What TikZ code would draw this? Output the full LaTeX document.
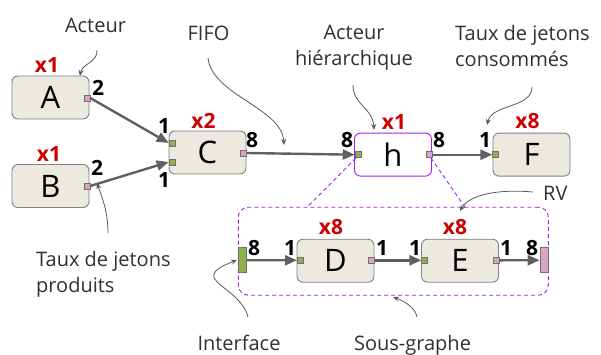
\documentclass[tikz,border=0pt]{standalone}
\usepackage{fontspec}
\setmainfont{Open Sans}
\usetikzlibrary{arrows.meta}
\definecolor{boxfill}{HTML}{ECEAE0}
\definecolor{boxborder}{HTML}{808080}
\definecolor{portgreen}{HTML}{8DB04C}
\definecolor{portpink}{HTML}{D8A5C4}
\definecolor{portborder}{HTML}{707070}
\definecolor{edgegray}{HTML}{606060}
\definecolor{notegray}{HTML}{303030}
\definecolor{repred}{HTML}{CC0000}
\definecolor{purp}{HTML}{A020F0}
\begin{document}
\begin{tikzpicture}[x=1pt,y=-1pt,
  actor/.style={draw=boxborder, fill=boxfill, rounded corners=6pt, minimum width=77pt, minimum height=43pt, line width=0.9pt, inner sep=0pt, font=\fontsize{31}{31}\selectfont},
  inport/.style={draw=portborder, fill=portgreen, minimum size=6pt, inner sep=0pt, line width=0.6pt},
  outport/.style={draw=portborder, fill=portpink, minimum size=6pt, inner sep=0pt, line width=0.6pt},
  rate/.style={font=\fontsize{21}{21}\selectfont\bfseries, text=black, inner sep=0pt},
  rep/.style={font=\fontsize{21}{21}\selectfont\bfseries, text=repred, inner sep=0pt},
  note/.style={font=\fontsize{20}{26}\selectfont, text=notegray, inner sep=0pt, anchor=base},
  edge/.style={draw=edgegray, line width=2.4pt, -{Triangle[length=12pt,width=10pt]}},
  notearrow/.style={draw=notegray!80, line width=0.8pt, -{Stealth[length=6pt,width=5pt]}},
  purpdash/.style={draw=purp, line width=0.9pt, dash pattern=on 4pt off 3pt}
]
\useasboundingbox (0,0) rectangle (601,354);

% subgraph box
\node[purpdash, rounded corners=10pt, minimum width=310pt, minimum height=88pt, inner sep=0pt] (sg) at (393.3,251.2) {};

% actors
\node[actor] (A) at (50.5,97.5) {A};
\node[actor] (B) at (50.5,186) {B};
\node[actor] (C) at (207.5,152.5) {C};
\node[actor, draw=purp, fill=white] (h) at (393,154.6) {h};
\node[actor] (F) at (531.5,154.6) {F};
\node[actor] (D) at (335.5,260.7) {D};
\node[actor] (E) at (460,260.7) {E};

% hierarchy dashed lines
\coordinate (hl) at (356,158);
\coordinate (sl) at (307,207.3);
\coordinate (hr) at (431,158);
\coordinate (sr) at (465,207.3);
\draw[purpdash] (hl) -- (sl);
\draw[purpdash] (hr) -- (sr);

% ports
\node[outport] (pA) at (87,98) {};
\node[outport] (pB) at (87,186) {};
\node[inport] (pC1) at (172,143) {};
\node[inport] (pC2) at (172,162) {};
\node[outport] (pCo) at (243.7,153) {};
\node[inport] (phi) at (358,154.7) {};
\node[outport] (pho) at (429,154.7) {};
\node[inport] (pFi) at (495.7,154.7) {};
\node[inport] (pDi) at (300.3,260.3) {};
\node[outport] (pDo) at (371.3,260.3) {};
\node[inport] (pEi) at (424.7,260.3) {};
\node[outport] (pEo) at (496.3,260.3) {};
\node[draw=portborder, fill=portgreen, minimum width=8.4pt, minimum height=25pt, inner sep=0pt, line width=0.6pt] (ifL) at (242.5,260.2) {};
\node[draw=portborder, fill=portpink, minimum width=8.4pt, minimum height=25pt, inner sep=0pt, line width=0.6pt] (ifR) at (544.2,260.2) {};

% edges
\draw[edge] (pA.east) -- (pC1.west);
\draw[edge] (pB.east) -- (pC2.west);
\draw[edge] (pCo.east) -- (phi.west);
\draw[edge] (pho.east) -- (pFi.west);
\draw[edge] (ifL.east) -- (pDi.west);
\draw[edge] (pDo.east) -- (pEi.west);
\draw[edge] (pEo.east) -- (ifR.west);

% repetition labels
\node[rep] (rA) at (47,65) {x1};
\node[rep] (rB) at (49,153.5) {x1};
\node[rep] (rC) at (203.5,121) {x2};
\node[rep] (rh) at (394,121.5) {x1};
\node[rep] (rF) at (527.5,121.5) {x8};
\node[rep] (rD) at (331,227) {x8};
\node[rep] (rE) at (455,227) {x8};

% rate labels
\node[rate] (tA) at (98,88) {2};
\node[rate] (tB) at (97,168) {2};
\node[rate] (tC1) at (164,126) {1};
\node[rate] (tC2) at (164,180) {1};
\node[rate] (tCo) at (252,140) {8};
\node[rate] (thi) at (347,140) {8};
\node[rate] (tho) at (439,140) {8};
\node[rate] (tFi) at (485,140) {1};
\node[rate] (tiL) at (254,248) {8};
\node[rate] (tDi) at (290,248) {1};
\node[rate] (tDo) at (382,248) {1};
\node[rate] (tEi) at (415,248) {1};
\node[rate] (tEo) at (506,248) {1};
\node[rate] (tiR) at (532,248) {8};

% annotations
\node[note] (nAct) at (95.5,32) {Acteur};
\node[note] (nFifo) at (208.5,40) {FIFO};
\node[note, align=center] (nHier) at (354,65) {Acteur\\hiérarchique};
\node[note, align=left, anchor=base west] (nCons) at (455,66) {Taux de jetons\\consommés};
\node[note, anchor=base west] (nRV) at (543,200) {RV};
\node[note, align=left, anchor=base west] (nProd) at (36,292) {Taux de jetons\\produits};
\node[note] (nIf) at (239,350) {Interface};
\node[note] (nSg) at (412.5,350) {Sous-graphe};

\coordinate (aAct0) at (97,50);   \coordinate (aAct1) at (80,76);
\coordinate (aFifo0) at (208,58); \coordinate (aFifo1) at (284,145);
\coordinate (aHier0) at (353,85); \coordinate (aHier1) at (374,130);
\coordinate (aCons0) at (532,87); \coordinate (aCons1) at (487,125);
\coordinate (aRV0) at (533,192);  \coordinate (aRV1) at (460,211);
\coordinate (aProd0) at (108,233); \coordinate (aProd1) at (97,183);
\coordinate (aIf0) at (248,317);  \coordinate (aIf1) at (237,260);
\coordinate (aSg0) at (417,317);  \coordinate (aSg1) at (393,297);

\draw[notearrow] (aAct0) .. controls (98,62) and (82,64) .. (aAct1);
\draw[notearrow] (aFifo0) .. controls (212,95) and (282,108) .. (aFifo1);
\draw[notearrow] (aHier0) .. controls (353,105) and (373,108) .. (aHier1);
\draw[notearrow] (aCons0) .. controls (532,108) and (492,104) .. (aCons1);
\draw[notearrow] (aRV0) .. controls (500,189) and (470,194) .. (aRV1);
\draw[notearrow] (aProd0) .. controls (108,210) and (101,195) .. (aProd1);
\draw[notearrow] (aIf0) .. controls (240,285) and (185,280) .. (aIf1);
\draw[notearrow] (aSg0) .. controls (415,306) and (401,300) .. (aSg1);
\end{tikzpicture}
\end{document}
